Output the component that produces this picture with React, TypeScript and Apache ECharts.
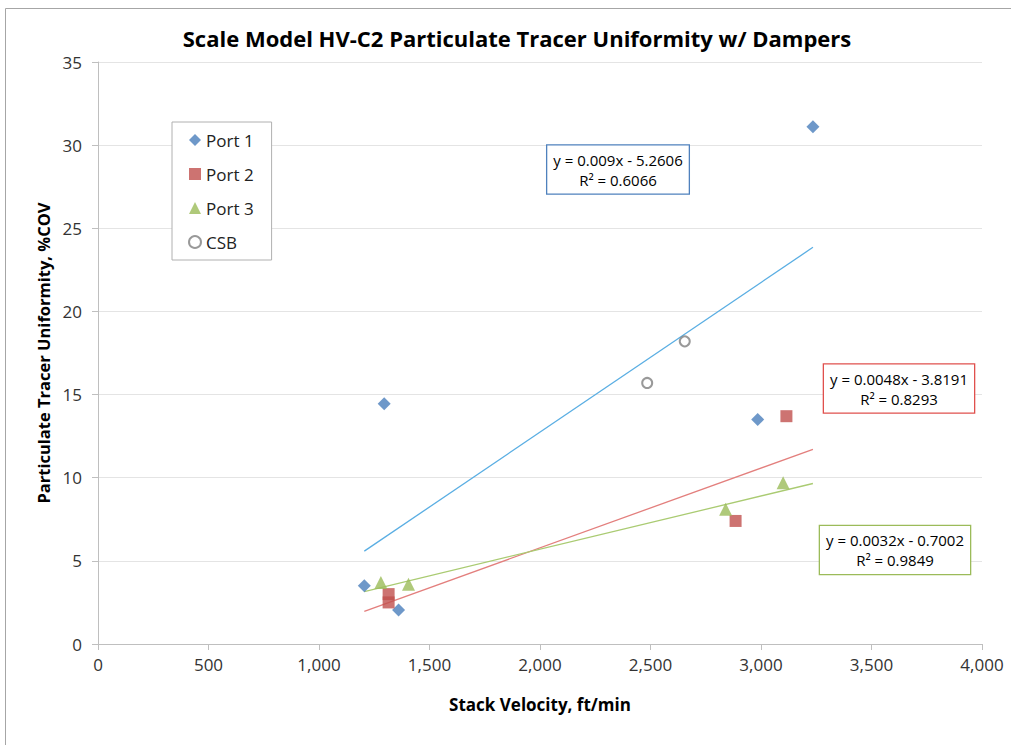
import React, { useEffect, useRef } from "react";
import * as echarts from "echarts";

const xTicks = [0, 500, 1000, 1500, 2000, 2500, 3000, 3500, 4000];
const port1X = [1205, 1295, 1360, 2985, 3235];
const port1Y = [3.5, 14.45, 2.05, 13.5, 31.1];
const port2X = [1315, 1315, 2885, 3115];
const port2Y = [3.0, 2.5, 7.4, 13.7];
const port3X = [1280, 1405, 2840, 3100];
const port3Y = [3.7, 3.6, 8.1, 9.7];
const csbX = [2485, 2655];
const csbY = [15.7, 18.2];

const trendNames = ["Port 1", "Port 2", "Port 3"];
const trendSlopes = [0.009, 0.0048, 0.0032];
const trendIntercepts = [-5.2606, -3.8191, -0.7002];
const trendR2 = ["0.6066", "0.8293", "0.9849"];
const trendRange = [1205, 3235];

const FONT = "'Open Sans', sans-serif";

export default function App() {
  const ref = useRef<HTMLDivElement>(null);
  useEffect(() => {
    document.body.style.margin = "0";
    const chart = echarts.init(ref.current!, null, { renderer: "svg" });
    const pts = (xs: number[], ys: number[]) => xs.map((x, i) => [x, ys[i]]);
    const trendColors = ["#5aaee3", "#e37f7d", "#aacb72"];
    const boxColors = ["#4f81bd", "#e0504d", "#9bbb59"];
    const boxPos = [
      { x: 618, y: 169.5 },
      { x: 899, y: 388.5 },
      { x: 895, y: 550 },
    ];
    const trendSeries = trendNames.map((n, i) => ({
      name: n + " trend",
      type: "line",
      data: trendRange.map((x) => [x, trendSlopes[i] * x + trendIntercepts[i]]),
      showSymbol: false,
      symbol: "none",
      silent: true,
      lineStyle: { color: trendColors[i], width: 1.3 },
      z: 1,
    }));
    const fmtEq = (i: number) => {
      const b = trendIntercepts[i];
      return (
        "y = " +
        trendSlopes[i] +
        "x " +
        (b < 0 ? "- " : "+ ") +
        Math.abs(b).toFixed(4) +
        "\nR² = " +
        trendR2[i]
      );
    };
    chart.setOption({
      animation: false,
      backgroundColor: "#fff",
      title: {
        text: "Scale Model HV-C2 Particulate Tracer Uniformity w/ Dampers",
        left: 512,
        top: 22,
        textAlign: "center",
        textStyle: { fontFamily: FONT, fontSize: 22, fontWeight: "bold", color: "#000" },
      },
      grid: { left: 98, right: 29, top: 62, bottom: 101, containLabel: false },
      legend: {
        data: ["Port 1", "Port 2", "Port 3", "CSB"],
        orient: "vertical",
        left: 172,
        top: 122,
        width: 98,
        padding: [8, 18, 8, 16],
        itemGap: 14,
        itemWidth: 12,
        itemHeight: 12,
        borderColor: "#b0b0b0",
        borderWidth: 1,
        backgroundColor: "#fff",
        textStyle: { fontFamily: FONT, fontSize: 17, color: "#222", lineHeight: 20 },
      },
      xAxis: {
        type: "value",
        min: 0,
        max: 4000,
        interval: 500,
        name: "Stack Velocity, ft/min",
        nameLocation: "middle",
        nameGap: 52,
        nameTextStyle: { fontFamily: FONT, fontSize: 17, fontWeight: "bold", color: "#000" },
        axisLine: { show: true, lineStyle: { color: "#bfbfbf", width: 1 } },
        axisTick: { show: true, length: 6, lineStyle: { color: "#bfbfbf" } },
        axisLabel: {
          fontFamily: FONT,
          fontSize: 17,
          color: "#333",
          margin: 12,
          formatter: (v: number) => (xTicks.includes(v) ? v.toLocaleString("en-US") : ""),
        },
        splitLine: { show: false },
      },
      yAxis: {
        type: "value",
        min: 0,
        max: 35,
        interval: 5,
        name: "Particulate Tracer Uniformity, %COV",
        nameLocation: "middle",
        nameGap: 46,
        nameTextStyle: { fontFamily: FONT, fontSize: 16.5, fontWeight: "bold", color: "#000" },
        axisLine: { show: true, lineStyle: { color: "#bfbfbf", width: 1 } },
        axisTick: { show: true, length: 6, lineStyle: { color: "#bfbfbf" } },
        axisLabel: { fontFamily: FONT, fontSize: 17, color: "#333", margin: 16 },
        splitLine: { show: true, lineStyle: { color: "#e4e4e4", width: 1 } },
      },
      series: [
        ...trendSeries,
        {
          name: "Port 1",
          type: "scatter",
          data: pts(port1X, port1Y),
          symbol: "diamond",
          symbolSize: 13,
          itemStyle: { color: "#4a7ebb" },
          z: 3,
        },
        {
          name: "Port 2",
          type: "scatter",
          data: pts(port2X, port2Y),
          symbol: "rect",
          symbolSize: 12,
          itemStyle: { color: "#c0504d" },
          z: 3,
        },
        {
          name: "Port 3",
          type: "scatter",
          data: pts(port3X, port3Y),
          symbol: "triangle",
          symbolSize: 13,
          itemStyle: { color: "#9bbb59" },
          z: 3,
        },
        {
          name: "CSB",
          type: "scatter",
          data: pts(csbX, csbY),
          symbol: "circle",
          symbolSize: 10,
          itemStyle: { color: "#ffffff", borderColor: "#7f7f7f", borderWidth: 2 },
          z: 3,
        },
      ],
      graphic: [
        {
          type: "rect",
          silent: true,
          shape: { x: 5.5, y: 8.5, width: 1200, height: 900 },
          style: { fill: "none", stroke: "#a6a6a6", lineWidth: 1 },
          z: 0,
        },
        ...trendNames.map((_, i) => ({
          type: "text",
          x: boxPos[i].x,
          y: boxPos[i].y,
          z: 10,
          style: {
            text: fmtEq(i),
            fontFamily: FONT,
            fontSize: 15,
            lineHeight: 20,
            fill: "#000",
            align: "center",
            verticalAlign: "middle",
            backgroundColor: "#fff",
            borderColor: boxColors[i],
            borderWidth: 1.3,
            padding: [4, 6, 4, 6],
          },
        })),
      ],
    });
    return () => chart.dispose();
  }, []);
  return <div ref={ref} style={{ width: 1011, height: 745 }} />;
}
